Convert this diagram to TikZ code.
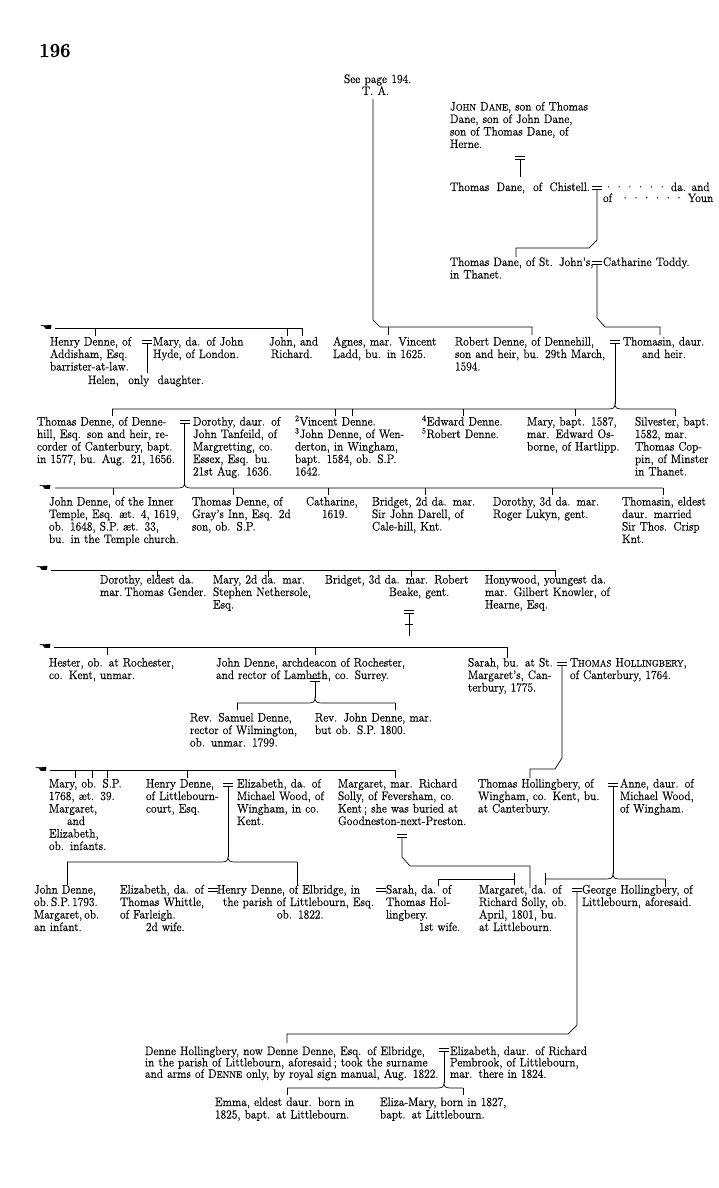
\documentclass[tikz,border=0pt]{standalone}
\usepackage{fontspec}
\setmainfont{Latin Modern Roman}[FakeBold=0.35, FakeStretch=0.93]
\newfontfamily\dejavu{DejaVu Sans}
\newcommand\fs{\fontsize{12.3}{12.5}\selectfont\spaceskip=4.4pt plus 4pt minus 2.4pt\relax}
\newcommand\fsb{\fontsize{12.3}{11.4}\selectfont\spaceskip=4.4pt plus 4pt minus 2.4pt\relax}
\newcommand\J[1]{\makebox[\hsize][s]{#1}}
\newcommand\JW[2]{\makebox[#1][s]{#2}}
\newcommand\N[1]{\mbox{#1}}
\newcommand\SC[2]{#1{\fontsize{9.3}{9.3}\selectfont #2}}
\tikzset{
  T/.style={anchor=base west, inner sep=0pt, outer sep=0pt, align=left, font=\fs},
  ln/.style={line width=0.7pt, line cap=butt},
  handst/.style={font=\dejavu\fontsize{15}{15}\selectfont, inner sep=0pt, yscale=0.6},
}
% marriage sign centred at (#1,#2)
\newcommand\Eq[2]{\draw[ln] ({#1-5},{#2-1.6}) -- ({#1+5},{#2-1.6}) ({#1-5},{#2+1.6}) -- ({#1+5},{#2+1.6});}
% horizontal line from #1 to #2 at height #4 with a brace at #3
\newcommand\BrLine[4]{\draw[ln] (#1,#4) -- ({#3-7},#4) .. controls ({#3-2},#4) and (#3,{#4-1}) .. (#3,{#4-5}) .. controls (#3,{#4-1}) and ({#3+2},#4) .. ({#3+7},#4) -- (#2,#4);}
\newcommand\Tick[3]{\draw[ln] (#1,#2) -- (#1,#3);}
\begin{document}
\begin{tikzpicture}[x=1pt,y=-1pt]
\useasboundingbox (0,0) rectangle (718,1188);
\fill[white] (0,0) rectangle (718,1188);
\begin{scope}
\clip (0,0) rectangle (713,1188);

\node[anchor=base west, inner sep=0pt, font=\fontsize{20}{20}\selectfont\bfseries] (pageno) at (39,57) {196};

% ---------- top ----------
\node[T] (seepage) at (344,83) {See page 194.};
\node[T] (ta) at (362,95) {T. A.};
\node[T, text width=142pt] (johndane) at (450,110.5) {\J{\SC{J}{OHN} \SC{D}{ANE}, son of Thomas}\\ \J{Dane, son of John Dane,}\\ \J{son of Thomas Dane, of}\\ Herne.};
\node[T] (chistell) at (450,191) {\JW{140pt}{Thomas Dane, of Chistell.}};
\node[T] (chwife) at (604,191) {·\,·\,·\,·\,·\,· da. and heir};
\node[T] (chwife2) at (603,202) {of \ ·\,·\,·\,·\,·\,· Young};
\node[T, text width=140pt] (stjohns) at (450,266) {\J{Thomas Dane, of St. John's,}\\ in Thanet.};
\node[T] (catharine0) at (603,266) {Catharine Toddy.};

\Eq{520}{157.5}
\draw[ln] (520,159) -- (520,177);
\Eq{597}{187.5}
\draw[ln] (597,189) -- (597,240) -- (589,248) -- (516,248) -- (516,257);
\Eq{597}{262.5}
\draw[ln] (597,264) -- (597,318) -- (605,327) -- (660,327) -- (660,335);
\draw[ln] (373,99) -- (373,320) -- (380,327) -- (532,327) -- (532,335);
\Tick{388}{327}{335}

% ---------- row 1 ----------
\node[handst] (hand1) at (46,328) {☚};
\draw[ln] (55,328) -- (302,328) -- (302,336);
\Tick{95}{328}{336}
\Tick{287}{328}{336}
\node[T, text width=92pt] (henry) at (50,345.5) {\J{Henry Denne, of}\\ \J{Addisham, Esq.}\\ \N{barrister-at-law.}};
\Eq{147}{342}
\draw[ln] (147,344) -- (147,373);
\node[T, text width=104pt] (mary) at (153,345.5) {\J{Mary, da. of John}\\ \N{Hyde, of London.}};
\node[T] (helen) at (88,384) {\JW{116pt}{Helen, only daughter.}};
\node[T, text width=52pt] (johnrichard) at (269,345.5) {John, and\\ \hspace*{2pt}Richard.};
\node[T, text width=110pt] (agnes) at (333,345.5) {\J{Agnes, mar. Vincent}\\ \N{Ladd, bu. in 1625.}};
\node[T, text width=153pt] (robert) at (455,345.5) {\J{Robert Denne, of Dennehill,}\\ \J{son and heir, bu. 29th March,}\\ 1594.};
\Eq{615}{342}
\node[T, text width=100pt] (thomasin1) at (623,345.5) {\N{Thomasin, daur.}\\ \hspace*{19pt}and heir.};
\draw[ln] (615,344) -- (615,404);

% ---------- row 2 ----------
\BrLine{112}{675}{615}{409}
\Tick{112}{409}{416}
\Tick{335}{409}{416}
\Tick{352}{409}{416}
\Tick{463}{409}{416}
\Tick{575}{409}{416}
\Tick{675}{409}{416}
\node[T, text width=143pt] (thomasdenne) at (37,425.5) {\J{Thomas Denne, of Denne-}\\ \J{hill, Esq. son and heir, re-}\\ \J{corder of Canterbury, bapt.}\\ \J{in 1577, bu. Aug. 21, 1656.}};
\Eq{184.5}{421.5}
\draw[ln] (184.5,423) -- (184.5,483);
\node[T, text width=89pt] (dorothy1) at (193,425.5) {\J{Dorothy, daur. of}\\ \J{John Tanfeild, of}\\ \J{Margretting, co.}\\ \J{Essex, Esq. bu.}\\ \N{21st Aug. 1636.}};
\node[T, text width=117pt] (vincent) at (295,425.5) {\N{\textsuperscript{2}Vincent Denne.}\\ \J{\textsuperscript{3}John Denne, of Wen-}\\ \J{derton, in Wingham,}\\ \J{bapt. 1584, ob. S.P.}\\ 1642.};
\node[T, text width=100pt] (edward) at (422,425.5) {\textsuperscript{4}Edward Denne.\\ \textsuperscript{5}Robert Denne.};
\node[T, text width=95pt] (mary2) at (527,425.5) {\J{Mary, bapt. 1587,}\\ \J{mar. Edward Os-}\\ \J{borne, of Hartlipp.}};
\node[T, text width=100pt] (silvester) at (635,425.5) {\N{Silvester, bapt.}\\ 1582, mar.\\ \N{Thomas Cop-}\\ \N{pin, of Minster}\\ in Thanet.};

% ---------- row 3 ----------
\node[handst] (hand2) at (45,488) {☚};
\BrLine{55}{663}{184.5}{488}
\Tick{113}{488}{495}
\Tick{233}{488}{495}
\Tick{328}{488}{495}
\Tick{425}{488}{495}
\Tick{552}{488}{495}
\Tick{663}{488}{495}
\node[T, text width=129pt] (johninner) at (49,505.5) {\J{John Denne, of the Inner}\\ \J{Temple, Esq. æt. 4, 1619,}\\ \J{ob. 1648, S.P. æt. 33,}\\ \J{bu. in the Temple church.}};
\node[T, text width=103pt] (thomasgray) at (192,505.5) {\J{Thomas Denne, of}\\ \J{Gray's Inn, Esq. 2d}\\ \N{son, ob. S.P.}};
\node[T, text width=60pt] (catharine) at (306,505.5) {Catharine,\\ \hspace*{16pt}1619.};
\node[T, text width=108pt] (bridget2) at (372,505.5) {\J{Bridget, 2d da. mar.}\\ \J{Sir John Darell, of}\\ \N{Cale-hill, Knt.}};
\node[T, text width=114pt] (dorothy3) at (493,505.5) {\J{Dorothy, 3d da. mar.}\\ \N{Roger Lukyn, gent.}};
\node[T, text width=100pt] (thomasin2) at (622,505.5) {\N{Thomasin, eldest}\\ \N{daur. married}\\ \N{Sir Thos. Crisp}\\ Knt.};

% ---------- row 4 ----------
\node[handst] (hand3) at (42,569) {☚};
\draw[ln] (51,570) -- (555,570) -- (555,577);
\Tick{157}{570}{577}
\Tick{268}{570}{577}
\Tick{411}{570}{577}
\node[T, text width=101pt] (dorothyeldest) at (100,583.5) {\J{Dorothy, eldest da.}\\ \N{mar.\,Thomas Gender.}};
\node[T, text width=100pt] (mary2d) at (213,583.5) {\J{Mary, 2d da. mar.}\\ \N{Stephen Nethersole,}\\ Esq.};
\node[T, text width=153pt] (bridget3) at (325,583.5) {\J{Bridget, 3d da. mar. Robert}\\ \hspace*{64pt}\N{Beake, gent.}};
\node[T, text width=123pt] (honywood) at (485,583.5) {\J{Honywood, youngest da.}\\ \J{mar. Gilbert Knowler, of}\\ \N{Hearne, Esq.}};
\Eq{409}{612}
\draw[ln] (409,614) -- (409,636);
\draw[ln] (405,624) -- (413,624);

% ---------- row 5 ----------
\node[handst] (hand4) at (45,647) {☚};
\draw[ln] (54,647) -- (507,647) -- (507,658);
\Tick{107}{647}{655}
\Tick{315}{647}{655}
\node[T, text width=128pt] (hester) at (49,666.5) {\J{Hester, ob. at Rochester,}\\ \N{co. Kent, unmar.}};
\node[T, text width=204pt] (johnarch) at (216,666.5) {\J{John Denne, archdeacon of Rochester,}\\ \N{and rector of Lambeth, co. Surrey.}};
\Eq{315}{680}
\draw[ln] (315,682) -- (315,698);
\BrLine{237}{395}{315}{703}
\Tick{237}{703}{710}
\Tick{395}{703}{710}
\node[T, text width=110pt] (samuel) at (190,721.5) {\J{Rev. Samuel Denne,}\\ \J{rector of Wilmington,}\\ \N{ob. unmar. 1799.}};
\node[T, text width=132pt] (revjohn) at (315,721.5) {\J{Rev. John Denne, mar.}\\ \N{but ob. S.P. 1800.}};
\node[T, text width=85pt] (sarah1) at (468,666.5) {\J{Sarah, bu. at St.}\\ \J{Margaret's, Can-}\\ \N{terbury, 1775.}};
\Eq{562}{663.5}
\node[T, text width=150pt] (thomashol1) at (570,666.5) {\N{\SC{T}{HOMAS} \SC{H}{OLLINGBERY},}\\ \N{of Canterbury, 1764.}};
\draw[ln] (562,665) -- (562,758) -- (555,769) -- (530,769) -- (530,778);

% ---------- row 6 ----------
\node[handst] (hand5) at (41,770) {☚};
\draw[ln] (50,770) -- (395,770) -- (395,778);
\Tick{75}{770}{778}
\Tick{92}{770}{778}
\Tick{107}{770}{778}
\Tick{187}{770}{778}
\node[T, text width=83pt] (mary3) at (49,787.5) {\J{Mary, ob. S.P.}\\ \N{1768, æt. 39.}\\ Margaret,\\ \hspace*{18pt}and\\ Elizabeth,\\ \N{ob. infants.}};
\node[T, text width=74pt] (henry2) at (146,787.5) {\J{Henry Denne,}\\ \J{of Littlebourn-}\\ \N{court, Esq.}};
\Eq{228}{784.5}
\node[T, text width=88pt] (elizwood) at (237,787.5) {\J{Elizabeth, da. of}\\ \J{Michael Wood, of}\\ \J{Wingham, in co.}\\ Kent.};
\node[T, text width=129pt] (margaret1) at (338,787.5) {\J{Margaret, mar. Richard}\\ \J{Solly, of Feversham, co.}\\ \J{Kent\,; she was buried at}\\ \N{Goodneston-next-Preston.}};
\node[T, text width=130pt] (thomashol2) at (478,787.5) {\J{Thomas Hollingbery, of}\\ \J{Wingham, co. Kent, bu.}\\ \N{at Canterbury.}};
\Eq{613}{784.5}
\node[T, text width=100pt] (anne) at (620,787.5) {\N{Anne, daur. of}\\ \N{Michael Wood,}\\ \N{of Wingham.}};

% descents to row 7
\draw[ln] (228,786) -- (228,857);
\BrLine{67}{297}{228}{862}
\Tick{67}{862}{885}
\Tick{297}{862}{885}
\Eq{402}{836}
\draw[ln] (402,838) -- (402,857) -- (410,866) -- (530,866) -- (530,888);
\draw[ln] (613,786) -- (613,874);
\draw[ln] (438,886) -- (438,879) -- (514,879);
\Tick{514}{873}{885}
\Tick{545}{873}{885}
\BrLine{545}{665}{613}{879}
\Tick{665}{879}{887}

% ---------- row 7 ----------
\node[T, text width=70pt] (johndenne3) at (34,893.5) {\N{John Denne,}\\ \N{ob.\,S.P.\,1793.}\\ \N{Margaret,\,ob.}\\ an infant.};
\node[T, text width=88pt] (elizwhittle) at (120,893.5) {\J{Elizabeth, da. of}\\ \J{Thomas Whittle,}\\ \N{of Farleigh.}\\ \hspace*{26pt}\N{2d wife.}};
\Eq{212.5}{890}
\node[T, text width=159pt] (henryelb) at (217,893.5) {\J{Henry Denne, of Elbridge, in}\\ \hspace*{6pt}\N{the parish of Littlebourn, Esq.}\\ \hspace*{60pt}ob. 1822.};
\Eq{381}{890}
\node[T, text width=74pt] (sarah2) at (386,893.5) {\J{Sarah, da. of}\\ \J{Thomas Hol-}\\ lingbery.\\ \hspace*{33pt}\N{1st wife.}};
\node[T, text width=94pt] (margsolly) at (479,893.5) {\J{Margaret, da. of}\\ \J{Richard Solly, ob.}\\ \J{April, 1801, bu.}\\ \N{at Littlebourn.}};
\Eq{577}{890}
\node[T, text width=140pt] (george) at (582,893.5) {\N{George Hollingbery, of}\\ \N{Littlebourn, aforesaid.}};
\draw[ln] (577,892) -- (577,1025) -- (568,1034) -- (287,1034) -- (287,1043);

% ---------- bottom ----------
\node[T, font=\fsb, text width=293pt] (dennehol) at (145,1055) {\J{Denne Hollingbery, now Denne Denne, Esq. of Elbridge,}\\ \J{in the parish of Littlebourn, aforesaid\,; took the surname}\\ \J{and arms of \SC{D}{ENNE} only, by royal sign manual, Aug. 1822.}};
\Eq{444}{1050}
\node[T, font=\fsb, text width=125pt] (elizpem) at (450,1055) {\J{Elizabeth, daur. of Richard}\\ \J{Pembrook, of Littlebourn,}\\ \N{mar. there in 1824.}};
\draw[ln] (444,1052) -- (444,1083);
\BrLine{287}{463}{444}{1088}
\Tick{287}{1088}{1095}
\Tick{463}{1088}{1095}
\node[T, text width=142pt] (emma) at (215,1106) {\J{Emma, eldest daur. born in}\\ \J{1825, bapt. at Littlebourn.}};
\node[T, text width=140pt] (elizamary) at (380,1106) {\J{Eliza-Mary, born in 1827,}\\ \N{bapt. at Littlebourn.}};
\end{scope}
\end{tikzpicture}
\end{document}
